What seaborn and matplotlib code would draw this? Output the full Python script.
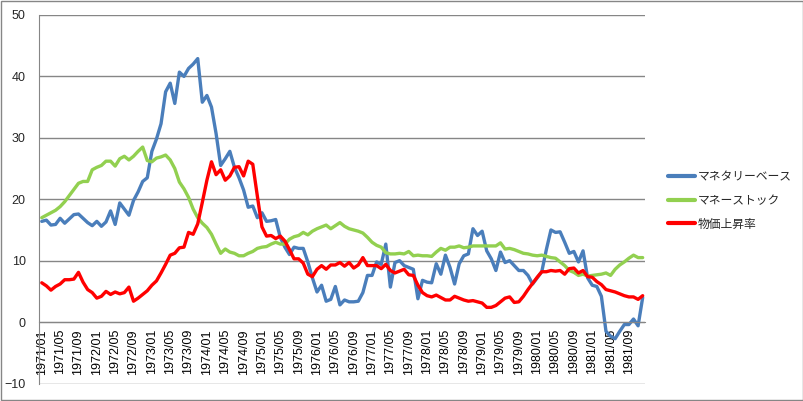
import matplotlib
matplotlib.use("Agg")
import matplotlib.pyplot as plt
from matplotlib.patches import Rectangle
from matplotlib.ticker import FixedLocator
import numpy as np
import pandas as pd
import seaborn as sns

years = list(range(1971, 1982))
months = [f"{y}/{m:02d}" for y in years for m in range(1, 13)]

monetary_base = [
    16.4, 16.6, 15.8, 15.9, 16.9, 16.1, 16.8, 17.5, 17.6, 16.9, 16.2, 15.7,
    16.4, 15.6, 16.3, 18.1, 15.9, 19.4, 18.4, 17.4, 19.8, 21.2, 22.9, 23.5,
    27.8, 29.8, 32.3, 37.5, 38.9, 35.6, 40.7, 40.0, 41.3, 42.0, 42.9, 35.8,
    36.9, 35.0, 30.7, 25.5, 26.6, 27.8, 25.2, 23.5, 21.5, 18.7, 18.9, 17.0,
    17.8, 16.4, 16.5, 16.7, 13.8, 12.2, 11.0, 12.2, 12.0, 12.0, 9.8, 7.2,
    4.9, 6.0, 3.4, 3.7, 5.8, 2.8, 3.6, 3.3, 3.3, 3.4, 4.8, 7.6,
    7.6, 9.8, 9.4, 12.7, 5.7, 9.7, 10.0, 9.2, 8.9, 8.6, 3.8, 6.8,
    6.5, 6.4, 9.5, 7.8, 10.9, 8.9, 6.2, 9.5, 10.8, 11.1, 15.2, 14.1,
    14.8, 11.6, 10.3, 8.4, 11.4, 9.7, 10.0, 9.2, 8.4, 8.4, 7.6, 6.2,
    7.2, 8.2, 11.8, 15.0, 14.6, 14.7, 13.0, 11.2, 11.5, 9.8, 11.6, 7.2,
    6.0, 5.8, 4.2, -1.5, -2.3, -2.7, -1.5, -0.4, -0.4, 0.5, -0.6, 4.0,
]

money_stock = [
    17.0, 17.4, 17.8, 18.2, 18.8, 19.6, 20.6, 21.6, 22.6, 22.9, 22.9, 24.8,
    25.2, 25.5, 26.2, 26.2, 25.4, 26.6, 27.0, 26.4, 27.0, 27.8, 28.5, 26.3,
    26.1, 26.7, 26.9, 27.2, 26.4, 25.0, 22.8, 21.7, 20.3, 18.4, 17.0, 16.1,
    15.4, 14.3, 12.7, 11.2, 11.9, 11.4, 11.2, 10.8, 10.8, 11.2, 11.5, 12.0,
    12.2, 12.3, 12.7, 13.0, 12.7, 12.7, 13.5, 13.9, 14.1, 14.6, 14.2, 14.8,
    15.2, 15.5, 15.8, 15.2, 15.7, 16.2, 15.6, 15.2, 15.0, 14.8, 14.5, 13.8,
    13.0, 12.5, 12.2, 11.3, 11.1, 11.1, 11.2, 11.1, 11.5, 10.8, 10.9, 10.8,
    10.8, 10.7, 11.4, 12.0, 11.7, 12.2, 12.2, 12.4, 12.1, 12.2, 12.4, 12.4,
    12.4, 12.4, 12.4, 12.4, 12.9, 11.9, 12.0, 11.8, 11.5, 11.2, 11.1, 10.9,
    10.8, 10.9, 10.7, 10.5, 10.4, 9.8, 9.2, 8.4, 8.1, 7.6, 7.8, 7.5,
    7.6, 7.7, 7.8, 8.0, 7.6, 8.6, 9.3, 9.8, 10.4, 10.9, 10.5, 10.5,
]

inflation = [
    6.4, 5.9, 5.2, 5.8, 6.2, 6.9, 6.9, 7.0, 8.1, 6.5, 5.3, 4.8,
    3.9, 4.2, 5.0, 4.5, 4.9, 4.6, 4.8, 5.7, 3.4, 3.9, 4.5, 5.1,
    6.0, 6.7, 8.0, 9.4, 10.9, 11.2, 12.1, 12.2, 14.6, 14.3, 16.0, 19.5,
    23.1, 26.1, 24.0, 24.8, 23.1, 23.8, 25.2, 25.3, 23.8, 26.2, 25.7, 20.5,
    15.5, 14.0, 14.1, 13.6, 14.0, 13.2, 11.8, 10.3, 10.3, 9.6, 7.8, 7.4,
    8.6, 9.2, 8.6, 9.3, 9.3, 9.7, 9.1, 9.7, 8.8, 9.3, 10.5, 9.2,
    9.2, 9.2, 8.7, 9.4, 8.4, 8.0, 8.3, 8.6, 7.7, 7.6, 6.0, 4.8,
    4.3, 4.1, 4.4, 4.0, 3.6, 3.6, 4.2, 3.9, 3.6, 3.4, 3.5, 3.3,
    3.1, 2.4, 2.4, 2.7, 3.3, 3.9, 4.1, 3.2, 3.3, 4.2, 5.3, 6.3,
    7.3, 8.2, 8.2, 8.4, 8.3, 8.4, 7.8, 8.7, 8.8, 8.0, 8.4, 7.4,
    7.3, 6.6, 6.1, 5.3, 5.1, 4.9, 4.6, 4.3, 4.1, 4.1, 3.7, 4.3,
]

series_names = ["マネタリーベース", "マネーストック", "物価上昇率"]
series_colors = ["#4A7EBB", "#92D050", "#FF0000"]
y_ticks = [-10, 0, 10, 20, 30, 40, 50]

sns.set_style("white")
plt.rcParams["font.family"] = ["Liberation Sans", "Noto Sans CJK JP", "DejaVu Sans"]

n = len(months)
df = pd.concat([
    pd.DataFrame({"idx": np.arange(n), "month": months, "value": vals, "series": name})
    for name, vals in zip(series_names, [monetary_base, money_stock, inflation])
], ignore_index=True)

fig = plt.figure(figsize=(8.04, 4.01), dpi=100)
ax = fig.add_axes([0.0491, 0.0436, 0.7531, 0.919])

sns.lineplot(data=df, x="idx", y="value", hue="series", hue_order=series_names,
             palette=series_colors, linewidth=2.4, sort=False, ax=ax, legend=True)

grid_c = "#868686"
ax.set_xlim(-0.5, n - 0.5)
ax.set_ylim(-10, 50)
ax.set_yticks(y_ticks)
ax.yaxis.grid(True, color=grid_c, linewidth=1.0)
ax.xaxis.grid(False)
ax.set_axisbelow(True)
for s in ["top", "right"]:
    ax.spines[s].set_visible(False)
ax.spines["left"].set_color(grid_c)
ax.spines["bottom"].set_color(grid_c)
ax.spines["bottom"].set_position(("data", 0))
ax.set_xlabel("")
ax.set_ylabel("")

label_pos = list(range(0, n, 4))
ax.set_xticks(label_pos)
ax.set_xticklabels([months[i] for i in label_pos], rotation=90, fontsize=9)
ax.xaxis.set_minor_locator(FixedLocator(np.arange(-0.5, n, 1)))
ax.tick_params(axis="x", which="major", length=0, pad=5, labelcolor="black")
ax.tick_params(axis="x", which="minor", length=4, color=grid_c, direction="out")
ax.tick_params(axis="y", which="major", length=4, color=grid_c, labelsize=9, pad=6)

handles, labels = ax.get_legend_handles_labels()
ax.get_legend().remove()
fig.legend(handles, labels, loc="center left", bbox_to_anchor=(0.823, 0.50),
           frameon=False, prop={"family": ["Noto Sans CJK JP"], "size": 8.5},
           handlelength=2.3, handletextpad=0.25, labelspacing=0.9, borderpad=0)
for h in fig.legends[0].legend_handles:
    h.set_linewidth(3)

fig.patches.append(Rectangle((0.0015, 0.002), 0.997, 0.996, transform=fig.transFigure,
                             fill=False, edgecolor=grid_c, linewidth=1))

fig.savefig("out.png", dpi=100)
